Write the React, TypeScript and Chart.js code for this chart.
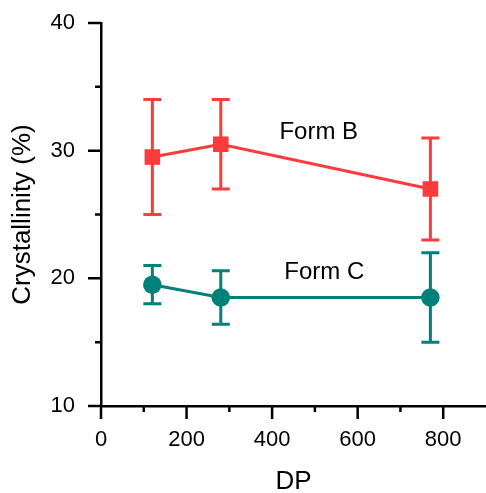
import React, { useEffect, useRef } from 'react';
import { Chart, registerables } from 'chart.js';

Chart.register(...registerables);

// Degree of polymerisation of the samples
const dp = [120, 280, 770];

// Crystallinity (%) and error (±) for each crystal form
const formB = [29.5, 30.5, 27];
const formBErr = [4.5, 3.5, 4];
const formC = [19.5, 18.5, 18.5];
const formCErr = [1.5, 2.1, 3.5];

// Axis ticks
const xMajor = [0, 200, 400, 600, 800];
const xMinor = [100, 300, 500, 700];
const yMajor = [10, 20, 30, 40];
const yMinor = [15, 25, 35];

const RED = '#FA3C3C';
const TEAL = '#00807A';
const FONT = "'Liberation Sans', Arial, sans-serif";
const AXIS_W = 2.5;

// In-plot series names, anchored in data coordinates
const seriesLabels = [
  { text: 'Form B', x: 509, y: 31.4 },
  { text: 'Form C', x: 522, y: 20.5 },
];

// Let the plot run right up to the canvas edge (the x axis is cut off there)
const fullWidthArea = {
  id: 'fullWidthArea',
  afterLayout(chart: any) {
    const xs = chart.scales.x;
    const right = chart.width;
    xs.right = right;
    xs.width = right - xs.left;
    xs.configure();
    chart.chartArea.right = right;
    chart.chartArea.width = right - chart.chartArea.left;
  },
};

const errorBars = {
  id: 'errorBars',
  beforeDatasetsDraw(chart: any) {
    const { ctx } = chart;
    const xs = chart.scales.x;
    const ys = chart.scales.y;
    const sets = [
      { vals: formB, err: formBErr, color: RED },
      { vals: formC, err: formCErr, color: TEAL },
    ];
    ctx.save();
    ctx.lineWidth = 3;
    ctx.lineCap = 'butt';
    sets.forEach((s) => {
      ctx.strokeStyle = s.color;
      dp.forEach((xv, i) => {
        const px = xs.getPixelForValue(xv);
        const top = ys.getPixelForValue(s.vals[i] + s.err[i]);
        const bot = ys.getPixelForValue(s.vals[i] - s.err[i]);
        const half = 9;
        ctx.beginPath();
        ctx.moveTo(px, top);
        ctx.lineTo(px, bot);
        ctx.moveTo(px - half, top);
        ctx.lineTo(px + half, top);
        ctx.moveTo(px - half, bot);
        ctx.lineTo(px + half, bot);
        ctx.stroke();
      });
    });
    ctx.restore();
  },
};

const axisTicksAndLabels = {
  id: 'axisTicksAndLabels',
  afterDraw(chart: any) {
    const { ctx, chartArea } = chart;
    const xs = chart.scales.x;
    const ys = chart.scales.y;
    ctx.save();
    ctx.strokeStyle = '#000';
    ctx.lineWidth = AXIS_W;
    ctx.beginPath();
    xMajor.forEach((v) => {
      const p = xs.getPixelForValue(v);
      ctx.moveTo(p, chartArea.bottom);
      ctx.lineTo(p, chartArea.bottom + 13);
    });
    xMinor.forEach((v) => {
      const p = xs.getPixelForValue(v);
      ctx.moveTo(p, chartArea.bottom);
      ctx.lineTo(p, chartArea.bottom + 6);
    });
    yMajor.forEach((v) => {
      const p = ys.getPixelForValue(v);
      ctx.moveTo(chartArea.left - 13, p);
      ctx.lineTo(chartArea.left, p);
    });
    yMinor.forEach((v) => {
      const p = ys.getPixelForValue(v);
      ctx.moveTo(chartArea.left - 6, p);
      ctx.lineTo(chartArea.left, p);
    });
    ctx.stroke();

    ctx.fillStyle = '#000';
    ctx.font = `24px ${FONT}`;
    ctx.textAlign = 'center';
    ctx.textBaseline = 'middle';
    seriesLabels.forEach((l) => {
      ctx.fillText(l.text, xs.getPixelForValue(l.x), ys.getPixelForValue(l.y));
    });
    ctx.restore();
  },
};

export default function App() {
  const canvasRef = useRef<HTMLCanvasElement | null>(null);

  useEffect(() => {
    if (!canvasRef.current) return;
    const chart = new Chart(canvasRef.current, {
      type: 'line',
      data: {
        datasets: [
          {
            label: 'Form B',
            data: dp.map((x, i) => ({ x, y: formB[i] })),
            borderColor: RED,
            backgroundColor: RED,
            borderWidth: 3,
            pointStyle: 'rect',
            pointRadius: 11,
            pointBorderWidth: 0,
            pointBackgroundColor: RED,
          },
          {
            label: 'Form C',
            data: dp.map((x, i) => ({ x, y: formC[i] })),
            borderColor: TEAL,
            backgroundColor: TEAL,
            borderWidth: 3,
            pointStyle: 'circle',
            pointRadius: 9.3,
            pointBorderWidth: 0,
            pointBackgroundColor: TEAL,
          },
        ],
      },
      options: {
        animation: false,
        responsive: false,
        maintainAspectRatio: false,
        layout: { padding: { top: 23, right: 0, left: 0, bottom: 0 } },
        plugins: {
          legend: { display: false },
          tooltip: { enabled: false },
        },
        scales: {
          x: {
            type: 'linear',
            min: 0,
            max: 900,
            afterFit: (s: any) => {
              s.height = 87;
              s.paddingLeft = 0;
              s.paddingRight = 0;
            },
            afterBuildTicks: (s: any) => {
              s.ticks = xMajor.map((v) => ({ value: v }));
            },
            grid: { display: false, drawTicks: false },
            border: { display: true, color: '#000', width: AXIS_W },
            ticks: {
              color: '#000',
              font: { family: FONT, size: 22 },
              padding: 21,
              maxRotation: 0,
            },
            title: {
              display: true,
              text: 'DP',
              color: '#000',
              font: { family: FONT, size: 26 },
              padding: { top: 0, bottom: -4 },
            },
          },
          y: {
            type: 'linear',
            min: 10,
            max: 40,
            afterFit: (s: any) => {
              s.width = 101;
              s.paddingTop = 0;
              s.paddingBottom = 0;
            },
            afterBuildTicks: (s: any) => {
              s.ticks = yMajor.map((v) => ({ value: v }));
            },
            grid: { display: false, drawTicks: false },
            border: { display: true, color: '#000', width: AXIS_W },
            ticks: {
              color: '#000',
              font: { family: FONT, size: 22 },
              padding: 26,
            },
            title: {
              display: true,
              text: 'Crystallinity (%)',
              color: '#000',
              font: { family: FONT, size: 26 },
              padding: { top: 7, bottom: 0 },
            },
          },
        },
      },
      plugins: [fullWidthArea, errorBars, axisTicksAndLabels],
    });
    return () => chart.destroy();
  }, []);

  return (
    <div style={{ position: 'absolute', left: 0, top: 0, width: 486, height: 493, background: '#fff' }}>
      <canvas ref={canvasRef} width={486} height={493} style={{ display: 'block' }} />
    </div>
  );
}
